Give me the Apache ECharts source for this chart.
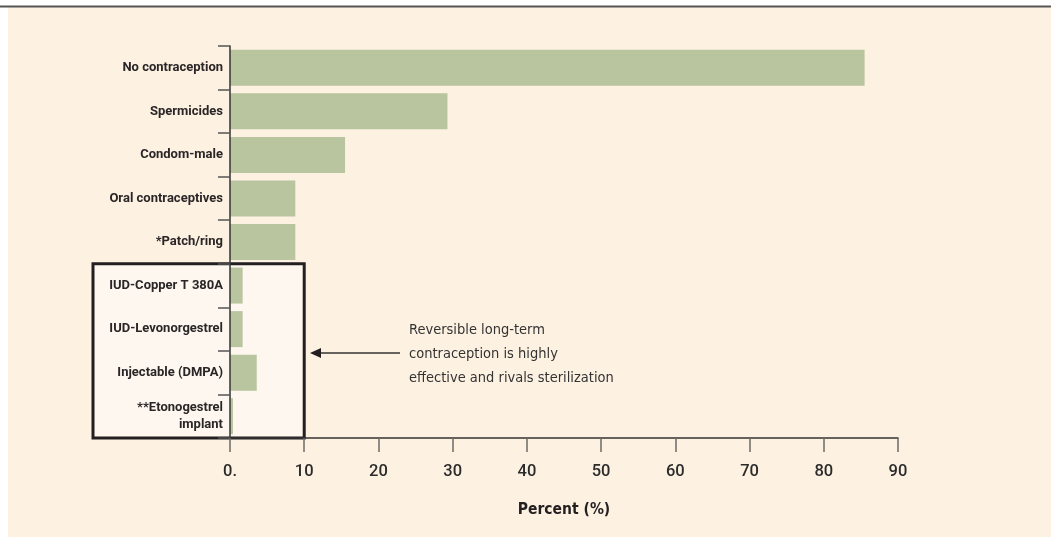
<!DOCTYPE html>
<html>
<head>
<meta charset="utf-8">
<script src="https://cdn.jsdelivr.net/npm/echarts@6/dist/echarts.min.js"></script>
<style>
  html, body { margin: 0; padding: 0; background: #fff; }
  #chart-container { width: 1051px; height: 537px; }
</style>
</head>
<body>
<div id="chart-container"></div>
<script>
// categories top to bottom, values in percent
var categories = [
  'No contraception',
  'Spermicides',
  'Condom-male',
  'Oral contraceptives',
  '*Patch/ring',
  'IUD-Copper T 380A',
  'IUD-Levonorgestrel',
  'Injectable (DMPA)',
  '**Etonogestrel\nimplant'
];
var values = [85.5, 29.3, 15.5, 8.8, 8.8, 1.7, 1.7, 3.6, 0.4];
var noteLines = [
  'Reversible long-term',
  'contraception is highly',
  'effective and rivals sterilization'
];

var font = 'Roboto, "DejaVu Sans Condensed", Arial, sans-serif';
var condensed = '"DejaVu Sans Condensed", Roboto, sans-serif';
var dom = document.getElementById('chart-container');
var myChart = echarts.init(dom, null, { renderer: 'canvas' });

var option = {
  backgroundColor: '#fdf1e2',
  animation: false,
  grid: { left: 230, right: 153, top: 46, bottom: 99 },
  xAxis: {
    type: 'value',
    min: 0,
    max: 90,
    interval: 10,
    z: 3,
    name: 'Percent (%)',
    nameLocation: 'middle',
    nameGap: 64,
    nameTextStyle: { fontFamily: condensed, fontSize: 15.5, fontWeight: 'bold', color: '#231f20' },
    axisLine: { show: true, lineStyle: { color: '#333', width: 1.5 } },
    axisTick: { show: true, length: 14, lineStyle: { color: '#6d6a68', width: 1.5 } },
    axisLabel: {
      show: true,
      margin: 25,
      fontFamily: font,
      fontSize: 16.5,
      fontWeight: 500,
      color: '#2b2b2b',
      formatter: function (v) { return v === 0 ? '0.' : String(v); }
    },
    splitLine: { show: false }
  },
  yAxis: {
    type: 'category',
    inverse: true,
    data: categories,
    z: 3,
    axisLine: { show: true, lineStyle: { color: '#333', width: 1.5 } },
    axisTick: { show: true, alignWithLabel: false, length: 12, lineStyle: { color: '#555', width: 1.5 } },
    axisLabel: {
      margin: 7,
      fontFamily: font,
      fontSize: 13,
      fontWeight: 'bold',
      color: '#2a2627',
      lineHeight: 17
    }
  },
  series: [
    {
      type: 'bar',
      data: values,
      z: 2,
      barWidth: 36,
      itemStyle: { color: '#b8c59e' }
    }
  ]
};

myChart.setOption(option);

// annotation box around the long-acting methods, placed from the axes
var xAt = function (v) { return myChart.convertToPixel({ xAxisIndex: 0 }, v); };
var yAt = function (c) { return myChart.convertToPixel({ yAxisIndex: 0 }, c); };
var band = yAt(categories[6]) - yAt(categories[5]);
var boxTop = yAt(categories[5]) - band / 2;
var boxBottom = yAt(categories[8]) + band / 2;
var boxRight = xAt(10);
var boxLeft = 93;
var arrowY = (boxTop + boxBottom) / 2 + 2;

myChart.setOption({
  graphic: [
    { type: 'rect', z: 10, shape: { x: 0, y: 0, width: 1051, height: 6 }, style: { fill: '#fff' } },
    { type: 'rect', z: 10, shape: { x: 0, y: 0, width: 8, height: 537 }, style: { fill: '#fff' } },
    { type: 'line', z: 10, shape: { x1: 0, y1: 6.5, x2: 1051, y2: 6.5 }, style: { stroke: '#555', lineWidth: 2 } },
    {
      type: 'rect', z: 1,
      shape: { x: boxLeft, y: boxTop, width: boxRight - boxLeft, height: boxBottom - boxTop },
      style: { fill: '#fef7ef', stroke: '#231f20', lineWidth: 3 }
    },
    { type: 'line', z: 10, shape: { x1: 400, y1: arrowY, x2: 318, y2: arrowY }, style: { stroke: '#333', lineWidth: 1.5 } },
    {
      type: 'polygon', z: 10,
      shape: { points: [[310, arrowY], [321, arrowY - 5], [321, arrowY + 5]] },
      style: { fill: '#231f20' }
    },
    {
      type: 'text', z: 10, x: 409, y: arrowY + 1,
      style: {
        text: noteLines.join('\n'),
        font: '14.5px ' + condensed,
        fill: '#333',
        lineHeight: 24,
        verticalAlign: 'middle',
        align: 'left'
      }
    }
  ]
});

window.addEventListener('resize', myChart.resize);
</script>
</body>
</html>
